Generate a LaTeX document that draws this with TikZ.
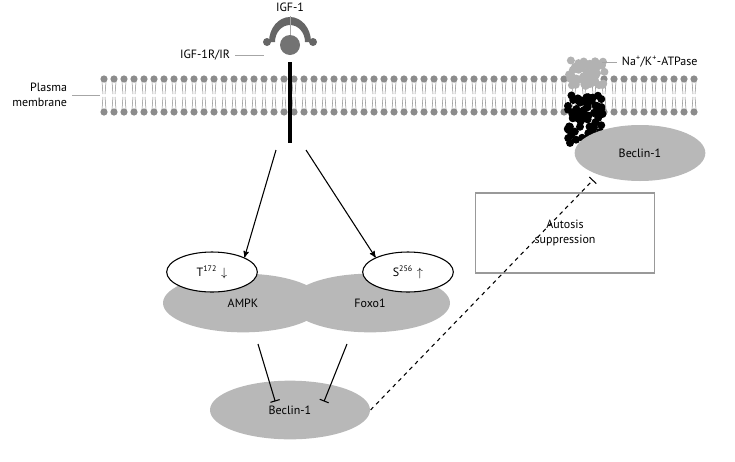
\documentclass[tikz,border=0pt]{standalone}
\usepackage{fontspec}
\setmainfont{PT Sans}
\usetikzlibrary{arrows,positioning,shapes.geometric}
\begin{document}
\begin{tikzpicture}[x=0.75pt,y=-0.75pt,>=stealth',thick,font=\small,
                    prot node/.style={ellipse,fill=black!28,minimum width=120,minimum height=44,inner sep=0},
                    site node/.style={ellipse,draw,fill=white,minimum width=68,minimum height=30,inner sep=0},
                    inhib/.style={-|,shorten >=2pt},
                    pointer/.style={black!35,thin}]
\useasboundingbox (0,0) rectangle (735,461);

% membrane
\foreach \i in {0,...,59} {
  \fill[black!45] (104+\i*10,79) circle (3.6);
  \fill[black!45] (104+\i*10,112) circle (3.6);
  \draw[black!45,thin] (102+\i*10,82) -- (103+\i*10,94) (106+\i*10,82) -- (105+\i*10,94);
  \draw[black!45,thin] (102+\i*10,109) -- (103+\i*10,97) (106+\i*10,109) -- (105+\i*10,97);
}
\node[align=right,anchor=east] (pm) at (72,95) {Plasma\\membrane};
\draw[pointer] (pm.east) -- (100,95);

% receptor
\draw[line width=3pt] (290,62) -- (290,143);
\fill[black!60] (269,42) arc (180:360:21 and 25) -- (305,42) arc (0:-180:15 and 17) -- cycle;
\fill[black!60] (267,42) circle (4) (313,42) circle (4);
\fill[white] (276,46) arc (180:360:14 and 12) -- (302,46) arc (0:-180:12 and 10) -- cycle;
\fill[black!55] (290,45) circle (10);
\node (igf) at (290,7) {IGF-1};
\draw[pointer] (igf.south) -- (290,35);
\node[anchor=east] (igfr) at (235,55) {IGF-1R/IR};
\draw[pointer] (igfr.east) -- (264,55);

% Na/K-ATPase
\pgfmathsetseed{7}
\foreach \k in {1,...,60} {
  \pgfmathsetmacro{\px}{588+rand*20}
  \pgfmathsetmacro{\py}{60+rnd*26}
  \fill[black!30] (\px,\py) circle (4);
}
\foreach \k in {1,...,90} {
  \pgfmathsetmacro{\px}{585+rand*18}
  \pgfmathsetmacro{\py}{95+rnd*48}
  \fill[black] (\px,\py) circle (4);
}
\node[anchor=west] (atp) at (617,62) {Na\textsuperscript{+}/K\textsuperscript{+}-ATPase};
\draw[pointer] (602,62) -- (atp.west);

\node[prot node,minimum width=98,minimum height=42] (bec2) at (640,153) {Beclin-1};

% cytosol
\node[prot node] (ampk) at (243,303) {AMPK};
\node[prot node] (foxo) at (370,303) {Foxo1};
\node[prot node] (bec1) at (290,410) {Beclin-1};
\node[site node] (t172) at (212,272) {T\textsuperscript{172}\,\,$\downarrow$};
\node[site node] (s256) at (408,272) {S\textsuperscript{256}\,\,$\uparrow$};
\node[draw=black!40,fill=white,align=center,minimum width=134,minimum height=60] (auto) at (565,233) {Autosis\\suppression};

\coordinate (rl) at (276,150);
\coordinate (rr) at (306,150);
\draw[->] (rl) -- (t172.north east);
\draw[->] (rr) -- (s256.north west);
\draw[inhib] (258,344) -- (276,404);
\draw[inhib] (347,344) -- (323,404);
\draw[inhib,dashed] (bec1.east) -- (595,178);
\end{tikzpicture}
\end{document}
